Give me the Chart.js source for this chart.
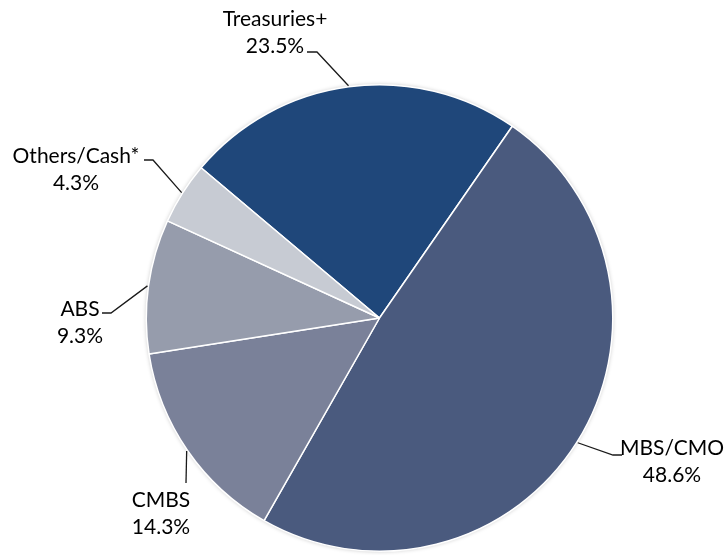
<!DOCTYPE html>
<html>
<head>
<meta charset="utf-8">
<script src="https://cdn.jsdelivr.net/npm/chart.js@4.4.0/dist/chart.umd.min.js"></script>
<style>
  html, body { margin: 0; padding: 0; background: #fff; }
  #wrap { width: 724px; height: 555px; position: relative; }
</style>
</head>
<body>
<div id="wrap"><canvas id="pieChart" width="724" height="555"></canvas></div>
<script>
const categories = ["Treasuries+", "MBS/CMO", "CMBS", "ABS", "Others/Cash*"];
const shares = [23.5, 48.6, 14.3, 9.3, 4.3];
const sliceColors = ["#1f477a", "#4a5a7e", "#7a8199", "#969cac", "#c7cbd3"];

// label text centre x, first-line baseline, leader elbow and leader end
const labelLayout = [
    { tx: 275, ty: 26, elbow: [317, 52], end: [307, 52] },
    { tx: 672, ty: 455, elbow: [613, 455], end: [622, 455] },
    { tx: 161, ty: 507, elbow: [186, 483], end: null },
    { tx: 80, ty: 316, elbow: [111, 313], end: [102, 313] },
    { tx: 76, ty: 163, elbow: [153, 160], end: [144, 160] }
];

const FONT = "21px Lato, 'Noto Sans', sans-serif";
const LINE_H = 27;

const pieShadow = {
    id: "pieShadow",
    beforeDatasetsDraw(chart) {
        const arc = chart.getDatasetMeta(0).data[0];
        if (!arc) return;
        const ctx = chart.ctx;
        ctx.save();
        ctx.shadowColor = "rgba(0,0,0,0.25)";
        ctx.shadowBlur = 4;
        ctx.beginPath();
        ctx.arc(arc.x, arc.y, arc.outerRadius, 0, Math.PI * 2);
        ctx.fillStyle = "#fff";
        ctx.fill();
        ctx.restore();
    }
};

const leaderLabels = {
    id: "leaderLabels",
    afterDatasetsDraw(chart) {
        const ctx = chart.ctx;
        const meta = chart.getDatasetMeta(0);
        ctx.save();
        ctx.font = FONT;
        ctx.fillStyle = "#000";
        ctx.textAlign = "center";
        ctx.textBaseline = "alphabetic";
        meta.data.forEach((arc, i) => {
            const lay = labelLayout[i];
            const mid = (arc.startAngle + arc.endAngle) / 2;
            const r = arc.outerRadius + 1;
            const ax = arc.x + Math.cos(mid) * r;
            const ay = arc.y + Math.sin(mid) * r;
            ctx.beginPath();
            ctx.strokeStyle = "#1a1a1a";
            ctx.lineWidth = 1.3;
            ctx.moveTo(ax, ay);
            ctx.lineTo(lay.elbow[0], lay.elbow[1]);
            if (lay.end) ctx.lineTo(lay.end[0], lay.end[1]);
            ctx.stroke();
            ctx.fillText(categories[i], lay.tx, lay.ty);
            ctx.fillText(shares[i].toFixed(1) + "%", lay.tx, lay.ty + LINE_H);
        });
        ctx.restore();
    }
};

new Chart(document.getElementById("pieChart"), {
    type: "pie",
    data: {
        labels: categories,
        datasets: [{
            data: shares,
            backgroundColor: sliceColors,
            borderColor: "#ffffff",
            borderWidth: 1.5
        }]
    },
    options: {
        responsive: false,
        animation: false,
        rotation: -49.9,
        layout: { padding: { top: 84, bottom: 3, left: 145, right: 110 } },
        plugins: {
            legend: { display: false },
            tooltip: { enabled: false }
        }
    },
    plugins: [pieShadow, leaderLabels]
});
</script>
</body>
</html>
